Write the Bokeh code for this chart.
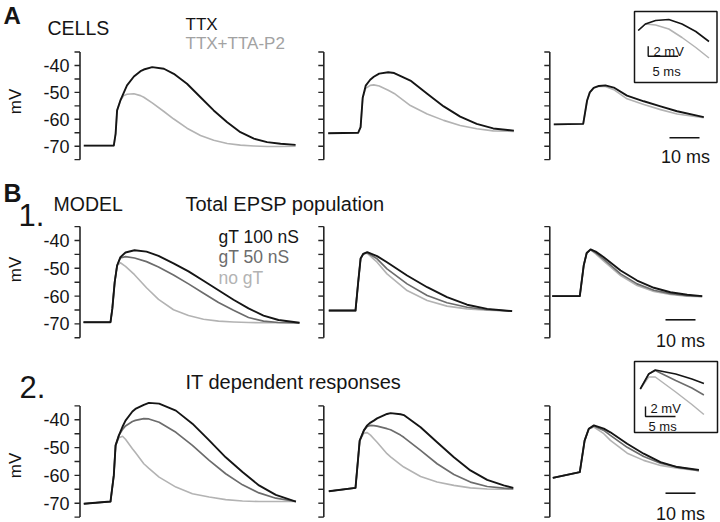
import numpy as np
from bokeh.plotting import figure
from bokeh.models import Range1d
from bokeh.core.properties import value
from bokeh.embed import file_html
from bokeh.resources import INLINE

# ------------------------------------------------------------------ data
# A : recorded cells (time in ms, membrane potential in mV)
a1_t   = [0, 10, 10.6, 11.1, 12.2, 13.3, 14.4, 16.7, 18.9, 20, 22.8, 26.7, 30, 34.4, 38.9, 43.3, 47.8, 52.2, 56.7, 61.1, 65.6, 70.6]
a1_ttx = [-69.8, -69.8, -65.4, -56.7, -53.0, -50.2, -47.4, -44.1, -42.1, -41.5, -40.6, -41.2, -43.1, -46.8, -51.8, -56.7, -61.1, -64.8, -67.2, -68.5, -69.1, -69.5]
a1_tta = [-69.8, -69.8, -65.4, -56.7, -53.0, -51.2, -50.7, -50.5, -51.2, -51.8, -53.9, -57.1, -59.9, -63.3, -66.0, -67.8, -69.0, -69.6, -69.9, -70.1, -70.1, -70.0]

a2_t   = [0, 10, 10.8, 11.5, 12.5, 14, 15.2, 17, 20, 22, 27.4, 33, 38.5, 44, 49.5, 55, 61.9]
a2_ttx = [-65.2, -65.0, -62.9, -52.0, -47.5, -45.3, -44.2, -43.0, -42.5, -42.8, -45.6, -50.5, -55.2, -59.0, -61.7, -63.4, -64.2]
a2_tta = [-65.2, -65.0, -62.9, -52.0, -48.5, -47.4, -47.2, -47.6, -49.2, -50.4, -54.9, -58.0, -60.4, -62.3, -63.5, -64.3, -64.5]

a3_t   = [0, 9.8, 11.1, 12, 13.3, 15, 17.2, 20, 24.4, 30, 35.6, 41.1, 50]
a3_ttx = [-61.9, -61.7, -53.0, -50.0, -48.3, -47.6, -47.4, -48.2, -51.2, -53.3, -55.2, -57.0, -59.2]
a3_tta = [-61.9, -61.7, -53.0, -50.0, -48.3, -47.8, -47.8, -49.0, -52.4, -54.5, -56.4, -58.0, -59.4]

# inset of A (peak of third cell, enlarged)
ia_t   = [12.1, 13.3, 15.0, 17.2, 19.4, 21.7, 23.9]
ia_ttx = [-49.6, -48.3, -47.6, -47.4, -48.3, -49.8, -51.8]
ia_tta = [-49.6, -48.3, -48.5, -49.3, -51.0, -53.0, -55.1]

# B1 : model, total EPSP population (gT 100 nS, gT 50 nS, no gT)
b1a_t   = [0, 9, 9.6, 10.4, 11.2, 12.3, 14, 17, 21, 25, 30, 35, 40, 45, 50, 55, 60, 65, 72]
b1a_100 = [-69.4, -69.4, -64.6, -55.0, -49.0, -46.0, -44.3, -43.5, -44.0, -45.5, -48.2, -51.1, -54.5, -57.9, -61.3, -64.4, -67.0, -68.6, -69.6]
b1a_50  = [-69.4, -69.4, -64.6, -55.0, -49.0, -46.3, -45.8, -46.3, -47.6, -49.5, -52.4, -55.6, -59.0, -62.3, -65.1, -67.7, -69.0, -69.5, -69.6]
b1a_0   = [-69.4, -69.4, -64.6, -55.0, -49.0, -48.0, -49.3, -52.3, -57.0, -61.2, -64.9, -67.0, -68.3, -69.0, -69.3, -69.5, -69.6, -69.6, -69.6]

b1b_t   = [0, 8.9, 9.8, 10.6, 11.5, 12.8, 16.1, 19.4, 26.1, 32.8, 39.4, 46.1, 52.8, 61.1]
b1b_100 = [-65.2, -65.2, -55.0, -46.5, -44.8, -44.2, -45.6, -47.8, -52.6, -56.8, -60.4, -63.1, -64.6, -65.4]
b1b_50  = [-65.2, -65.2, -55.0, -46.5, -44.8, -44.4, -46.6, -50.2, -55.6, -59.8, -62.4, -64.0, -64.9, -65.4]
b1b_0   = [-65.2, -65.2, -55.0, -46.5, -44.8, -44.6, -47.8, -52.0, -58.0, -61.6, -63.6, -64.6, -65.1, -65.4]

b1c_t   = [0, 9.2, 10.5, 11.5, 12.8, 14.5, 17.2, 22.8, 28.3, 33.9, 39.4, 45, 50]
b1c_100 = [-60.0, -60.0, -49.0, -44.5, -43.2, -44.0, -46.0, -50.8, -54.4, -57.0, -58.6, -59.5, -60.0]
b1c_50  = [-60.0, -60.0, -49.0, -44.5, -43.3, -44.4, -46.8, -52.0, -55.6, -57.9, -59.1, -59.8, -60.1]
b1c_0   = [-60.0, -60.0, -49.0, -44.5, -43.4, -44.8, -47.4, -52.6, -56.2, -58.3, -59.4, -60.0, -60.2]

# B2 : model, IT dependent responses
b2a_t   = [0, 8.9, 10.0, 10.6, 11.7, 12.9, 13.9, 16.2, 17.2, 20, 21.7, 25.1, 30.7, 36.2, 41.8, 47.3, 52.9, 58.4, 64, 70.7]
b2a_100 = [-70.2, -69.4, -60.0, -49.2, -45.6, -42.5, -40.3, -37.0, -36.1, -34.6, -33.9, -34.2, -36.7, -41.4, -47.4, -53.5, -58.8, -63.6, -67.0, -69.4]
b2a_50  = [-70.2, -69.4, -60.0, -49.2, -45.6, -43.5, -42.2, -40.6, -40.2, -39.6, -39.7, -40.9, -44.5, -49.2, -54.6, -59.4, -63.4, -66.3, -68.2, -69.4]
b2a_0   = [-70.2, -69.4, -60.0, -49.2, -46.5, -45.9, -47.0, -50.4, -51.8, -55.8, -57.5, -60.6, -64.2, -66.6, -67.8, -68.7, -69.2, -69.4, -69.4, -69.4]

b2b_t   = [0, 8.9, 10.3, 11.7, 12.8, 13.9, 15, 16.1, 19.4, 20.6, 23.9, 25, 30.6, 36.1, 41.7, 47.2, 52.8, 58.3, 61.5]
b2b_100 = [-65.7, -64.5, -47.5, -43.8, -42.0, -41.0, -40.3, -39.5, -37.9, -37.6, -38.0, -38.3, -42.7, -48.1, -53.5, -58.2, -61.6, -63.6, -64.5]
b2b_50  = [-65.7, -64.5, -47.5, -43.8, -42.4, -42.0, -42.1, -42.3, -43.2, -43.6, -45.5, -46.3, -51.0, -55.8, -59.7, -62.4, -64.0, -64.6, -64.8]
b2b_0   = [-65.7, -64.5, -47.5, -44.8, -44.6, -45.5, -46.8, -48.1, -52.2, -53.3, -56.1, -57.0, -60.4, -62.4, -63.6, -64.5, -64.9, -65.0, -65.0]

b2c_t   = [0, 9, 10.6, 12, 13.7, 17, 19.2, 24.8, 30.3, 35.9, 41.5, 48.7]
b2c_100 = [-60.9, -58.8, -47.5, -43.2, -42.0, -43.2, -44.5, -48.6, -52.2, -55.2, -57.0, -58.0]
b2c_50  = [-60.9, -58.8, -47.5, -43.2, -42.2, -43.8, -45.6, -49.9, -53.2, -55.6, -57.0, -58.3]
b2c_0   = [-60.9, -58.8, -47.5, -43.3, -42.6, -45.0, -47.4, -52.0, -54.6, -56.4, -57.4, -58.3]

# inset of B2 (peak of third response, enlarged)
ib_t   = [11.0, 12.4, 13.5, 16.9, 19.6, 21.6]
ib_100 = [-45.8, -42.8, -42.0, -42.8, -43.8, -44.7]
ib_50  = [-45.8, -42.8, -42.1, -44.1, -45.6, -47.0]
ib_0   = [-45.8, -43.4, -43.4, -46.4, -48.9, -50.9]

# axes / scale bars
axis_ticks = [-75, -70, -65, -60, -55, -50, -45, -40, -35]
tick_label_values = [-70, -60, -50, -40]
tick_labels = ["-70", "-60", "-50", "-40"]
scale_ms = 10
inset_scale_ms = 5
inset_scale_mv = 2

# ------------------------------------------------------------------ style / layout
FONT = value("Liberation Sans")
BLACK = "#151515"
DARK = "#6c6c6c"
LIGHT = "#b3b3b3"
AXIS = "#262626"

W, H = 720, 522
X_LO, X_HI, Y_LO, Y_HI = 0.0, float(W), 0.0, float(H)
SX = 3.0  # px per ms for main panels

p = figure(width=W, height=H, output_backend="svg", toolbar_location=None,
           x_range=Range1d(X_LO, X_HI), y_range=Range1d(Y_HI, Y_LO),
           x_axis_location=None, y_axis_location=None, min_border=0)
p.grid.visible = False
p.outline_line_color = None
p.background_fill_color = "white"
p.border_fill_color = "white"

ROWS = {"A": dict(y40=65.0, k=2.69), "B1": dict(y40=240.0, k=2.78), "B2": dict(y40=419.3, k=2.78)}
AXIS_X = [79.5, 323.3, 549.3]

panels = [
    dict(name="A1", row="A", col=0, x0=83.3, t=a1_t, curves=[(a1_tta, LIGHT, 1.6), (a1_ttx, BLACK, 1.9)]),
    dict(name="A2", row="A", col=1, x0=327.7, t=a2_t, curves=[(a2_tta, LIGHT, 1.6), (a2_ttx, BLACK, 1.9)]),
    dict(name="A3", row="A", col=2, x0=553.3, t=a3_t, curves=[(a3_tta, LIGHT, 1.6), (a3_ttx, BLACK, 1.9)]),
    dict(name="B11", row="B1", col=0, x0=83.0, t=b1a_t, curves=[(b1a_0, LIGHT, 1.6), (b1a_50, DARK, 1.7), (b1a_100, BLACK, 1.9)]),
    dict(name="B12", row="B1", col=1, x0=328.3, t=b1b_t, curves=[(b1b_0, LIGHT, 1.6), (b1b_50, DARK, 1.7), (b1b_100, BLACK, 1.9)]),
    dict(name="B13", row="B1", col=2, x0=551.7, t=b1c_t, curves=[(b1c_0, LIGHT, 1.6), (b1c_50, DARK, 1.7), (b1c_100, BLACK, 1.9)]),
    dict(name="B21", row="B2", col=0, x0=83.3, t=b2a_t, curves=[(b2a_0, LIGHT, 1.6), (b2a_50, DARK, 1.7), (b2a_100, BLACK, 1.9)]),
    dict(name="B22", row="B2", col=1, x0=328.3, t=b2b_t, curves=[(b2b_0, LIGHT, 1.6), (b2b_50, DARK, 1.7), (b2b_100, BLACK, 1.9)]),
    dict(name="B23", row="B2", col=2, x0=552.3, t=b2c_t, curves=[(b2c_0, LIGHT, 1.6), (b2c_50, DARK, 1.7), (b2c_100, BLACK, 1.9)]),
]

insets = [
    dict(name="IA", x_ref=668.3, t_ref=17.2, y_ref=19.0, v_ref=-47.4, sx=6.0, k=5.0,
         t=ia_t, curves=[(ia_tta, LIGHT, 1.5), (ia_ttx, BLACK, 1.6)],
         box=(634.0, 716.5, 11.0, 82.0), bar=(647.7, 55.7),
         lbl_mv=(653.0, 50.5), lbl_ms=(652.0, 71.0)),
    dict(name="IB", x_ref=656.0, t_ref=13.7, y_ref=369.5, v_ref=-42.0, sx=6.0, k=5.0,
         t=ib_t, curves=[(ib_0, LIGHT, 1.5), (ib_50, DARK, 1.5), (ib_100, BLACK, 1.6)],
         box=(634.0, 717.0, 361.0, 432.0), bar=(645.0, 416.0),
         lbl_mv=(650.0, 407.5), lbl_ms=(648.0, 425.5)),
]

xr, yr, maps = {}, {}, {}
for pn in panels:
    r = ROWS[pn["row"]]
    pn.update(sx=SX, y_ref=r["y40"], v_ref=-40.0, k=r["k"], t_ref=0.0, x_ref=pn["x0"])
for pn in panels + insets:
    nm = pn["name"]
    x0 = pn["x_ref"] - pn["t_ref"] * pn["sx"]
    xr[nm] = Range1d((X_LO - x0) / pn["sx"], (X_HI - x0) / pn["sx"])
    yr[nm] = Range1d(pn["v_ref"] - (Y_HI - pn["y_ref"]) / pn["k"],
                     pn["v_ref"] - (Y_LO - pn["y_ref"]) / pn["k"])
    maps[nm] = (x0, pn["sx"], pn["y_ref"], pn["v_ref"], pn["k"])
p.extra_x_ranges = xr
p.extra_y_ranges = yr


def px_to_data(nm, x, y):
    x0, sx, y_ref, v_ref, k = maps[nm]
    return (x - x0) / sx, v_ref - (y - y_ref) / k


def label(x, y, s, size, color=BLACK, align="left", bold=False, angle=0.0):
    # y is the vertical centre of the text
    p.text(x=[x], y=[y], text=[s], text_font=FONT, text_font_size=f"{size}px",
           text_color=color, text_align=align, text_baseline="middle",
           text_font_style="bold" if bold else "normal", angle=angle)


# ------------------------------------------------------------------ panels
for pn in panels:
    nm = pn["name"]
    kw = dict(x_range_name=nm, y_range_name=nm)
    tax, _ = px_to_data(nm, AXIS_X[pn["col"]], 0)
    p.segment(x0=[tax], y0=[min(axis_ticks)], x1=[tax], y1=[max(axis_ticks)],
              line_color=AXIS, line_width=1.6, **kw)
    p.segment(x0=[tax - 5.5 / SX] * len(axis_ticks), y0=axis_ticks,
              x1=[tax] * len(axis_ticks), y1=axis_ticks,
              line_color=AXIS, line_width=1.4, **kw)
    if pn["col"] == 0:
        p.text(x=[tax - 10.5 / SX] * len(tick_labels), y=tick_label_values, text=tick_labels,
               text_font=FONT, text_font_size="18px", text_color=BLACK,
               text_align="right", text_baseline="middle", **kw)
    for vals, col, lw in pn["curves"]:
        p.line(pn["t"], vals, line_color=col, line_width=lw, line_join="round", **kw)

# 10 ms scale bars (third column)
bars = [("A3", 669.0, 137.3, 685.0, 156.0), ("B13", 665.0, 319.3, 680.0, 340.5), ("B23", 665.0, 492.7, 680.0, 513.0)]
for nm, bx, by, tx, ty in bars:
    t0, v0 = px_to_data(nm, bx, by)
    p.segment(x0=[t0], y0=[v0], x1=[t0 + scale_ms], y1=[v0], line_color=BLACK,
              line_width=1.6, x_range_name=nm, y_range_name=nm)
    label(tx, ty, f"{scale_ms} ms", 18, align="center")

# insets
for ins in insets:
    nm = ins["name"]
    kw = dict(x_range_name=nm, y_range_name=nm)
    l, r, t, b = ins["box"]
    p.quad(left=[l], right=[r], top=[t], bottom=[b], fill_color=None,
           line_color=BLACK, line_width=1.5)
    for vals, col, lw in ins["curves"]:
        p.line(ins["t"], vals, line_color=col, line_width=lw, line_join="round", **kw)
    t0, v0 = px_to_data(nm, *ins["bar"])
    p.line([t0, t0, t0 + inset_scale_ms], [v0 + inset_scale_mv, v0, v0],
           line_color=BLACK, line_width=1.4, **kw)
    label(*ins["lbl_mv"], f"{inset_scale_mv} mV", 13)
    label(*ins["lbl_ms"], f"{inset_scale_ms} ms", 13)

# ------------------------------------------------------------------ texts
label(3, 15, "A", 24, bold=True)
label(47, 27.5, "CELLS", 19.5)
label(185, 24, "TTX", 17)
label(185, 42.5, "TTX+TTA-P2", 17, color="#a2a2a2")

label(3, 192.5, "B", 25, bold=True)
label(53, 203.5, "MODEL", 19.5)
label(185, 203.5, "Total EPSP population", 20)
label(18, 214, "1.", 31)
label(218, 236, "gT 100 nS", 17.5, color=BLACK)
label(218, 256, "gT 50 nS", 17.5, color=DARK)
label(218, 277, "no gT", 17.5, color=LIGHT)

label(19, 386, "2.", 31)
label(185, 381, "IT dependent responses", 20)

for yc in (101, 269, 465):
    label(15, yc, "mV", 17, align="center", angle=np.pi / 2)

open("out.html", "w").write(file_html(p, INLINE))
